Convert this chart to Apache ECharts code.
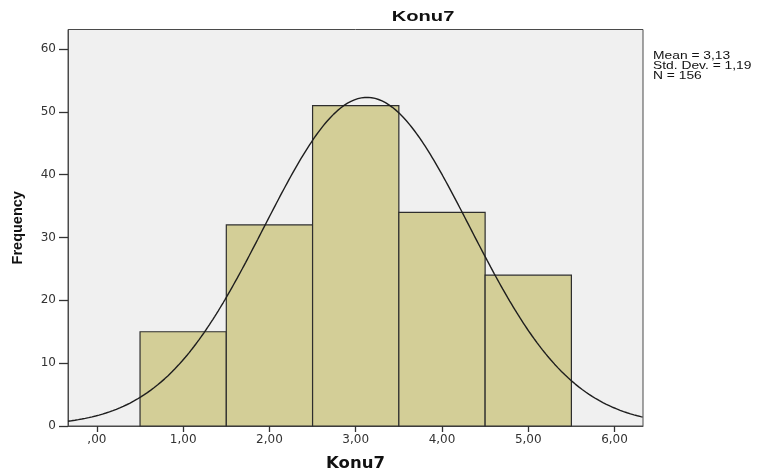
<!DOCTYPE html>
<html>
<head>
<meta charset="utf-8">
<script src="https://cdn.jsdelivr.net/npm/echarts@6/dist/echarts.min.js"></script>
<style>
  html, body { margin: 0; padding: 0; background: #ffffff; }
  #chart { width: 762px; height: 472px; }
</style>
</head>
<body>
<div id="chart"></div>
<script>
// Histogram of Konu7 with fitted normal curve
const binStarts = [0.5, 1.5, 2.5, 3.5, 4.5];
const binWidth = 1;
const frequencies = [15, 32, 51, 34, 24];

const xTickValues = [0, 1, 2, 3, 4, 5, 6];
const xTickLabels = [',00', '1,00', '2,00', '3,00', '4,00', '5,00', '6,00'];
const yTickValues = [0, 10, 20, 30, 40, 50, 60];

// Summary statistics shown beside the plot
const meanVal = 3.13;
const sdVal = 1.19;
const nVal = 156;
const statsLines = ['Mean = 3,13', 'Std. Dev. = 1,19', 'N = 156'];

const xMin = -0.335, xMax = 6.33;

// Normal density scaled to counts per bin
const curve = [];
for (let x = xMin; x <= xMax + 1e-9; x += 0.02) {
  const z = (x - meanVal) / sdVal;
  const y = nVal * binWidth / (sdVal * Math.sqrt(2 * Math.PI)) * Math.exp(-0.5 * z * z);
  curve.push([x, y]);
}

const bars = binStarts.map((s, i) => [s, s + binWidth, frequencies[i]]);

const sans = '"Liberation Sans", Arial, sans-serif';
const wide = '"DejaVu Sans", sans-serif';
const chart = echarts.init(document.getElementById('chart'), null, { renderer: 'canvas' });

chart.setOption({
  animation: false,
  backgroundColor: '#ffffff',
  grid: {
    left: 68, right: 119, top: 29.5, bottom: 46,
    outerBoundsMode: 'none',
    show: true, backgroundColor: '#f0f0f0', borderColor: '#4a4a4a', borderWidth: 1
  },
  xAxis: {
    type: 'value', min: xMin, max: xMax,
    name: 'Konu7', nameLocation: 'middle', nameGap: 29,
    nameTextStyle: { fontFamily: wide, fontWeight: 'bold', fontSize: 16.5, color: '#111' },
    splitLine: { show: false },
    axisLine: { show: true, onZero: false, lineStyle: { color: '#4a4a4a', width: 1 } },
    axisTick: { show: true, length: 6, customValues: xTickValues, lineStyle: { color: '#333', width: 1.3 } },
    axisLabel: {
      customValues: xTickValues, margin: 8,
      fontFamily: wide, fontSize: 12, color: '#333',
      formatter: v => xTickLabels[xTickValues.indexOf(Math.round(v))] || ''
    }
  },
  yAxis: {
    type: 'value', min: 0, max: 63.1,
    name: 'Frequency', nameLocation: 'middle', nameGap: 43, nameRotate: 90,
    nameTextStyle: { fontFamily: sans, fontWeight: 'bold', fontSize: 14.5, color: '#111' },
    splitLine: { show: false },
    axisLine: { show: true, onZero: false, lineStyle: { color: '#4a4a4a', width: 1 } },
    axisTick: { show: true, length: 9, customValues: yTickValues, lineStyle: { color: '#333', width: 1.3 } },
    axisLabel: {
      customValues: yTickValues, margin: 12,
      fontFamily: wide, fontSize: 12, color: '#333'
    }
  },
  graphic: [
    {
      type: 'text', x: 423, y: 16.5, scaleX: 1.3,
      style: { text: 'Konu7', fill: '#111', font: 'bold 15.5px ' + sans, textAlign: 'center', textVerticalAlign: 'middle' }
    },
    {
      type: 'text', x: 653, y: 50.5, scaleX: 1.28,
      style: { text: statsLines.join('\n'), fill: '#111', font: '10.8px ' + sans, lineHeight: 10.2, textAlign: 'left', textVerticalAlign: 'top' }
    }
  ],
  series: [
    {
      type: 'custom',
      data: bars,
      encode: { x: [0, 1], y: 2 },
      renderItem: (params, api) => {
        const p0 = api.coord([api.value(0), api.value(2)]);
        const p1 = api.coord([api.value(1), 0]);
        return {
          type: 'rect',
          shape: { x: p0[0], y: p0[1], width: p1[0] - p0[0], height: p1[1] - p0[1] },
          style: { fill: '#d3ce97', stroke: '#2e2e2e', lineWidth: 1.2 }
        };
      },
      z: 2
    },
    {
      type: 'line',
      data: curve,
      showSymbol: false,
      symbol: 'none',
      smooth: false,
      lineStyle: { color: '#1e1e1e', width: 1.4 },
      z: 3
    }
  ]
});
</script>
</body>
</html>
